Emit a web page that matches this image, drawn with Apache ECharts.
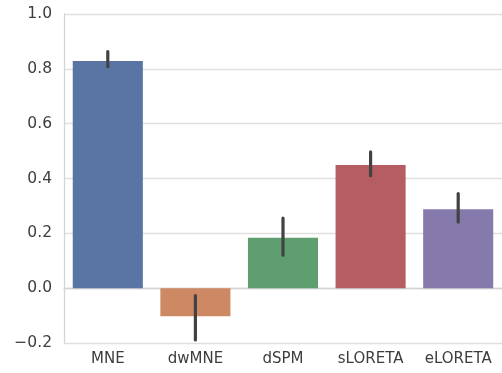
<!DOCTYPE html>
<html>
<head>
<meta charset="utf-8">
<script src="https://cdn.jsdelivr.net/npm/echarts@6/dist/echarts.min.js"></script>
<style>
  html, body { margin: 0; padding: 0; background: #fff; }
  #chart { width: 502px; height: 373px; }
</style>
</head>
<body>
<div id="chart"></div>
<script>
  // categories and bar heights
  const methods = ['MNE', 'dwMNE', 'dSPM', 'sLORETA', 'eLORETA'];
  const means = [0.829, -0.102, 0.184, 0.449, 0.288];
  // confidence interval ends
  const ciLow = [0.808, -0.189, 0.120, 0.410, 0.241];
  const ciHigh = [0.863, -0.027, 0.256, 0.497, 0.345];
  const yTicks = [-0.2, 0.0, 0.2, 0.4, 0.6, 0.8, 1.0];

  const barColors = ['#5975a4', '#cc8963', '#5f9e6e', '#b55d60', '#857aab'];

  let chart = echarts.init(document.getElementById('chart'));

  let errData = [];
  for (let i = 0; i < methods.length; i++) {
    errData.push([i, ciLow[i], ciHigh[i]]);
  }

  let option = {
    animation: false,
    grid: { left: 64, top: 14, width: 440, height: 329 },
    xAxis: {
      type: 'category',
      data: methods,
      axisTick: { show: false },
      axisLine: { lineStyle: { color: '#d4d4d4', width: 1.3 } },
      axisLabel: {
        interval: 0,
        hideOverlap: false,
        color: '#3d3d3d',
        fontFamily: 'DejaVu Sans',
        fontSize: 15,
        margin: 9
      }
    },
    yAxis: {
      type: 'value',
      min: yTicks[0],
      max: yTicks[yTicks.length - 1],
      interval: 0.2,
      axisLine: { show: true, lineStyle: { color: '#d4d4d4', width: 1.3 } },
      axisTick: { show: false },
      splitLine: { lineStyle: { color: '#e0e0e0', width: 1.3 } },
      axisLabel: {
        color: '#3d3d3d',
        fontFamily: 'DejaVu Sans',
        fontSize: 15.5,
        margin: 12,
        formatter: function (v) {
          let s = Math.abs(v).toFixed(1);
          return v < -1e-9 ? '\u2212' + s : s;
        }
      }
    },
    series: [
      {
        type: 'bar',
        barWidth: '80%',
        data: means.map(function (v, i) {
          return { value: v, itemStyle: { color: barColors[i] } };
        })
      },
      {
        type: 'custom',
        z: 5,
        data: errData,
        encode: { x: 0, y: [1, 2] },
        renderItem: function (params, api) {
          let p1 = api.coord([api.value(0), api.value(1)]);
          let p2 = api.coord([api.value(0), api.value(2)]);
          return {
            type: 'line',
            shape: { x1: p1[0], y1: p1[1], x2: p2[0], y2: p2[1] },
            style: { stroke: '#424242', lineWidth: 3.2, lineCap: 'round' }
          };
        }
      }
    ]
  };

  chart.setOption(option);
</script>
</body>
</html>
